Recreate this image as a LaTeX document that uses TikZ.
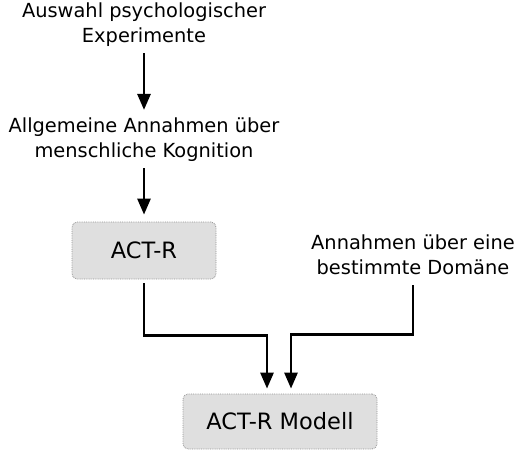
\documentclass[tikz,border=0pt]{standalone}
\usepackage{fontspec}
\setmainfont{DejaVu Sans}
\usetikzlibrary{arrows.meta}
\begin{document}
\begin{tikzpicture}[x=1pt,y=-1pt,
  lbl/.style={align=center,font=\fontsize{19.4}{25}\selectfont,inner sep=0pt},
  box/.style={draw=gray!85,densely dotted,line width=0.8pt,fill=gray!25,rounded corners=5pt,
    font=\fontsize{22.5}{26}\selectfont,inner sep=0pt},
  arr/.style={line width=2.7pt,-{Triangle[width=13pt,length=16pt]}}]
\useasboundingbox (0,0) rectangle (516,451);
\node[lbl] (t1) at (144,25) {Auswahl psychologischer\\Experimente};
\node[lbl] (t2) at (144,140) {Allgemeine Annahmen über\\menschliche Kognition};
\node[lbl] (dom) at (413,255) {Annahmen über eine\\bestimmte Domäne};
\node[box,minimum width=144pt,minimum height=57pt] (act) at (144,250.5) {ACT-R};
\node[box,minimum width=194pt,minimum height=55pt] (model) at (280,421.5) {ACT-R Modell};
\draw[arr,shorten <=6pt,shorten >=8pt] (t1.south) -- (t1.south |- t2.north);
\draw[arr,shorten <=6pt,shorten >=7pt] (t2.south) -- (act.north);
\draw[arr,shorten >=5pt] ([yshift=-4pt]act.south) -- ++(0,52) -| ([xshift=-13pt]model.north);
\draw[arr,shorten >=5pt] ([yshift=-10pt]dom.south) |- ([xshift=11pt,yshift=59pt]model.north) -- ([xshift=11pt]model.north);
\end{tikzpicture}
\end{document}
